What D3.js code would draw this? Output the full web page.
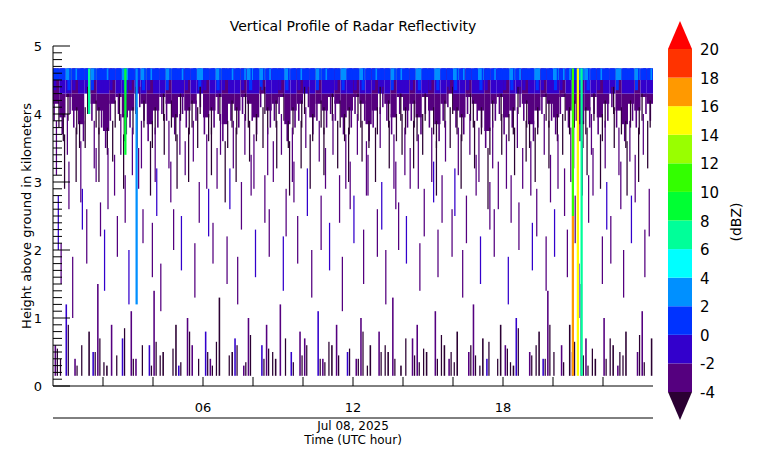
<!DOCTYPE html>
<html><head><meta charset="utf-8">
<script src="https://cdn.jsdelivr.net/npm/d3@7"></script>
<style>body{margin:0;background:#fff}text{font-family:"DejaVu Sans",sans-serif}</style>
</head><body>
<svg id="c" width="764" height="467"></svg>
<script>
// column data: 96 bins of 15 min across the day
const layerBase = [
3.9,3.7,4.0,3.8,3.6,4.1,3.9,3.8, 3.5,3.9,4.0,3.7,3.8,4.1,3.9,3.6,
3.8,4.0,3.9,3.7,4.0,3.8,3.9,4.1, 3.7,3.8,4.0,3.6,3.9,3.8,4.0,3.9,
3.7,4.1,3.8,3.9,4.0,3.6,3.8,3.9, 4.1,3.7,3.9,3.8,4.0,3.9,3.7,3.8,
4.0,3.9,3.6,3.8,4.1,3.9,3.7,4.0, 3.8,3.9,3.7,4.0,3.8,3.6,3.9,4.1,
3.8,3.7,4.0,3.9,3.8,3.5,3.9,4.0, 3.7,3.8,4.1,3.9,3.6,3.8,4.0,3.9,
3.7,4.0,3.8,3.9,3.6,3.8,4.0,3.7, 3.9,4.1,3.8,3.6,3.9,3.8,4.0,3.9];
const topDbz = [
1,1,3,1,1,1,3,1, 1,1,1,3,1,1,3,1, 1,1,3,1,1,1,1,3, 1,1,3,1,1,1,1,3,
1,3,1,1,1,3,1,1, 1,1,3,1,1,1,3,1, 1,3,1,1,1,1,3,1, 1,1,3,1,1,3,1,1,
3,1,1,1,3,1,1,1, 1,3,1,1,1,3,1,1, 3,1,1,1,3,3,1,1, 1,1,3,1,1,3,1,1];
// sparse streaks below the layer (km), 0 = none
const lowTop = [
0.6,0,1.2,0.4,0,0.8,0.5,1.5, 0.3,0.9,0,0.7,1.1,0.4,0,0.6,
1.4,0.5,0,0.9,0.3,1.0,0.6,0, 0.8,0.4,1.3,0,0.5,0.7,0.3,1.0,
0,0.6,0.9,0.4,1.2,0,0.5,0.8, 0.7,0,1.1,0.4,0.6,0.9,0,0.5,
0.4,1.0,0.6,0,0.8,0.5,1.3,0.3, 0,0.7,0.9,0.5,0,1.1,0.6,0.4,
0.8,0,0.5,1.2,0.7,0.4,0,0.9, 0.6,0.3,1.0,0,0.5,0.8,0.4,1.4,
0,0.6,0.9,0.5,1.5,0.7,0.4,0, 1.0,0.6,0.3,0.8,0,0.5,1.1,0.7];
const midLo = [
2.0,1.5,2.6,1.0,2.3,1.8,3.0,2.2, 1.4,2.8,1.9,2.4,1.2,2.9,2.1,1.6,
2.5,1.1,2.7,2.0,1.7,3.1,1.3,2.4, 2.2,1.8,2.9,1.5,2.6,1.2,2.3,2.8,
1.6,2.4,1.9,3.0,1.4,2.2,2.7,1.8, 2.5,1.3,2.0,2.9,1.7,2.4,1.1,2.6,
2.1,1.5,2.8,1.9,2.3,1.2,2.6,2.0, 1.8,2.9,1.4,2.2,2.7,1.6,2.4,1.9,
2.5,1.3,2.1,2.8,1.5,2.3,1.9,2.6, 1.2,2.4,2.0,2.9,1.7,2.2,1.4,2.7,
1.9,2.5,1.6,2.1,1.0,2.4,2.8,1.5, 2.3,1.8,2.6,1.3,2.1,2.7,1.6,2.2];
const midHi = [
2.8,2.1,3.3,1.9,2.9,2.6,3.5,2.7, 2.3,3.4,2.5,3.1,2.0,3.5,2.6,2.4,
3.2,1.8,3.3,2.6,2.5,3.6,2.1,3.0, 2.9,2.4,3.5,2.2,3.2,1.9,3.0,3.4,
2.3,3.1,2.6,3.6,2.2,2.9,3.3,2.5, 3.2,2.0,2.8,3.5,2.4,3.1,1.9,3.3,
2.8,2.3,3.4,2.6,3.0,2.0,3.3,2.7, 2.5,3.5,2.1,2.9,3.3,2.3,3.1,2.6,
3.2,2.0,2.8,3.4,2.2,3.0,2.6,3.3, 1.9,3.1,2.7,3.5,2.4,2.9,2.2,3.4,
2.6,3.2,2.3,2.8,1.8,3.1,3.5,2.2, 3.0,2.5,3.3,2.0,2.8,3.4,2.3,2.9];
const upLo = [
3.1,2.9,3.4,3.0,2.7,3.5,3.2,3.0, 2.6,3.3,3.4,2.9,3.1,3.5,3.2,2.8,
3.0,3.4,3.2,2.9,3.4,3.0,3.3,3.5, 2.9,3.1,3.4,2.7,3.2,3.0,3.4,3.3,
2.9,3.5,3.1,3.2,3.4,2.8,3.0,3.2, 3.5,2.9,3.3,3.1,3.4,3.2,2.9,3.0,
3.4,3.3,2.8,3.0,3.5,3.2,2.9,3.4, 3.1,3.2,2.9,3.4,3.0,2.8,3.3,3.5,
3.1,2.9,3.4,3.2,3.0,2.6,3.2,3.4, 2.9,3.1,3.5,3.3,2.8,3.0,3.4,3.2,
2.9,3.4,3.0,3.2,2.8,3.1,3.4,2.9, 3.2,3.5,3.1,2.8,3.3,3.0,3.4,3.2];
const lowDbz = [-3,-5,-1,-3,-3,-5,-1,-3,-5];
const offsets = [0.05,0.35,0.6,0.2,0.75,0.45,0.1,0.65,0.3];
// narrow strong columns
const spikeHour = [1.4, 2.85, 3.3, 20.75, 20.75, 20.95, 21.1];
const spikeLo = [4.0, 3.4, 1.2, 2.5, 0.15, 0.15, 0.15];
const spikeHi = [4.67, 4.67, 4.67, 4.67, 2.5, 4.67, 4.67];
const spikeDbz = [7, 9, 3, 11, 17, 15, 7];
const dbzBounds = [-4,-2,0,2,4,6,8,10,12,14,16,18,20];
const dbzColors = ["#2b0033","#55007f","#3300cc","#0033ff","#0090ff","#00ffff","#00ff99","#00ff33","#33ff00","#99ff00","#ffff00","#ff9900","#ff3300","#ff0000"];
const xTickLabels = ["06","12","18"];

const svg = d3.select("#c");
const L = 53, R = 653, T = 46, B = 386;
const x = d3.scaleLinear().domain([0, 24]).range([L, R]);
const y = d3.scaleLinear().domain([0, 5]).range([B, T]);
const col = d3.scaleThreshold().domain(dbzBounds).range(dbzColors);
const topH = 4.67, n = layerBase.length, dh = 24 / n;
const g = svg.append("g");
const bar = (h0, w, lo, hi, d) => g.append("rect")
  .attr("x", x(h0)).attr("width", x(w) - x(0))
  .attr("y", y(hi)).attr("height", Math.max(0, y(lo) - y(hi))).attr("fill", col(d));

layerBase.forEach((b, i) => {
  const h = i * dh, o = offsets[i % offsets.length];
  bar(h, dh, b + 0.25, 4.3, -3);
  bar(h, dh, 4.3, topH, i % 3 ? -1 : -3);
  bar(h + dh * o * 0.5, dh * 0.5, 4.35, topH, topDbz[i] > 2 ? 1 : -1);
  bar(h, dh, 4.5, topH, topDbz[i]);
  bar(h + dh * 0.6, dh * 0.25, 4.5, topH, topDbz[(i + 3) % n] > 2 ? 3 : 1);
  bar(h + dh * o, dh * 0.25, b, b + 0.3, -3);
  bar(h + dh * (0.9 - o), dh * 0.2, b - 0.1, b + 0.3, -5);
  bar(h + dh * ((o + 0.4) % 0.8), dh * 0.2, upLo[i], b, i % 2 ? -5 : -3);
  bar(h + dh * ((o + 0.7) % 0.85), dh * 0.2, midLo[i], midHi[i], i % 4 ? -3 : -1);
  if (lowTop[i] > 0) bar(h + dh * ((o + 0.2) % 0.8), dh * 0.25, 0.15, lowTop[i], lowDbz[i % lowDbz.length]);
  bar(h + dh * ((o + 0.55) % 0.8), dh * 0.2, 0.15, 0.15 + lowTop[(i + 5) % n] * 0.5, -5);
});
spikeHour.forEach((h, i) => bar(h, 0.09, spikeLo[i], spikeHi[i], spikeDbz[i]));

// axes
svg.append("line").attr("x1", L).attr("x2", R).attr("y1", B).attr("y2", B).attr("stroke", "#000");
svg.append("line").attr("x1", L).attr("x2", L).attr("y1", T).attr("y2", B).attr("stroke", "#000");
d3.range(0, 5.01, 0.1).forEach(v => {
  const major = Math.abs(v - Math.round(v)) < 1e-6;
  svg.append("line").attr("x1", L).attr("x2", L + (major ? 17 : 9))
    .attr("y1", y(v)).attr("y2", y(v)).attr("stroke", "#000");
});
d3.range(0, 6).forEach(v => svg.append("text").attr("x", 42).attr("y", y(v) + 5)
  .attr("text-anchor", "end").attr("font-size", 13).text(v));
d3.range(2, 24, 2).forEach(h => svg.append("line").attr("x1", x(h)).attr("x2", x(h))
  .attr("y1", B).attr("y2", B - 9).attr("stroke", "#000"));
xTickLabels.forEach(t => svg.append("text").attr("x", x(+t)).attr("y", 412)
  .attr("text-anchor", "middle").attr("font-size", 13).text(t));
svg.append("line").attr("x1", L).attr("x2", R).attr("y1", 418).attr("y2", 418).attr("stroke", "#000");
svg.append("text").attr("x", 353).attr("y", 430).attr("text-anchor", "middle").attr("font-size", 12).text("Jul 08, 2025");
svg.append("text").attr("x", 353).attr("y", 444).attr("text-anchor", "middle").attr("font-size", 12).text("Time (UTC hour)");
svg.append("text").attr("x", 353).attr("y", 31).attr("text-anchor", "middle").attr("font-size", 14).text("Vertical Profile of Radar Reflectivity");
svg.append("text").attr("transform", "translate(31,216) rotate(-90)").attr("text-anchor", "middle")
  .attr("font-size", 13).text("Height above ground in kilometers");

// colorbar
const cy = d3.scaleLinear().domain([-4, 20]).range([392, 49]);
const cx0 = 668, cx1 = 692;
d3.range(dbzBounds.length - 1).forEach(i => svg.append("rect").attr("x", cx0).attr("width", cx1 - cx0)
  .attr("y", cy(dbzBounds[i + 1])).attr("height", cy(dbzBounds[i]) - cy(dbzBounds[i + 1]))
  .attr("fill", dbzColors[i + 1]));
svg.append("path").attr("d", `M${cx0},${cy(20)}L${(cx0 + cx1) / 2},21L${cx1},${cy(20)}Z`).attr("fill", dbzColors[13]);
svg.append("path").attr("d", `M${cx0},${cy(-4)}L${(cx0 + cx1) / 2},420L${cx1},${cy(-4)}Z`).attr("fill", dbzColors[0]);
dbzBounds.forEach(v => svg.append("text").attr("x", 700).attr("y", cy(v) + 6)
  .attr("font-size", 15).text(v));
svg.append("text").attr("transform", "translate(741,222) rotate(-90)").attr("text-anchor", "middle")
  .attr("font-size", 14).text("(dBZ)");
</script>
</body></html>
